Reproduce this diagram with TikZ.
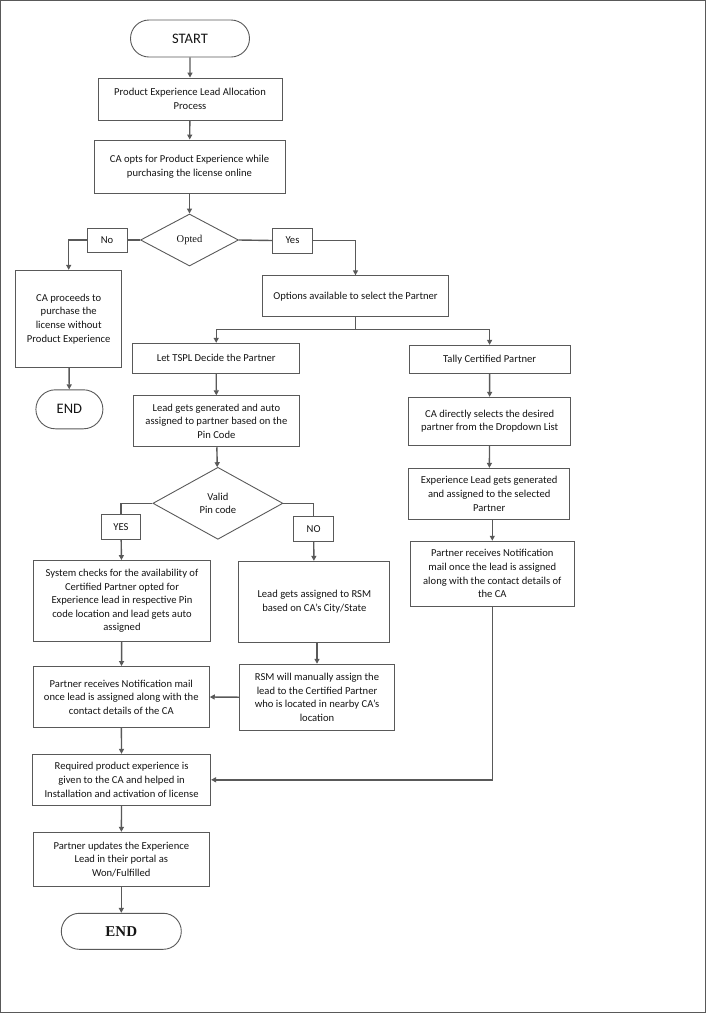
\documentclass[tikz,border=0pt]{standalone}
\usepackage{fontspec}
\setmainfont{Carlito}
\newfontfamily\timesfont{Liberation Serif}
\usepackage{tikz}
\usetikzlibrary{arrows.meta,shapes.geometric,shapes.misc}

\definecolor{lineg}{RGB}{89,89,89}
\definecolor{textg}{RGB}{20,20,20}

\begin{document}
\begin{tikzpicture}[x=1pt,y=-1pt,
		every node/.style={text=textg,inner sep=0pt,align=center,
			font=\fontsize{10.6}{13.6}\selectfont},
		procbox/.style={draw=lineg,line width=0.9pt,rectangle},
		termbox/.style={draw=lineg,line width=0.9pt,rounded rectangle,
			font=\fontsize{14.5}{16}\selectfont},
		decbox/.style={draw=lineg,line width=0.9pt,diamond},
		tagbox/.style={draw=lineg,line width=0.9pt,rectangle,
			minimum width=40pt,minimum height=24pt},
		flow/.style={draw=lineg,line width=1.4pt,-{Triangle[length=5pt,width=5pt]}},
		link/.style={draw=lineg,line width=1.4pt}]
		\useasboundingbox (0,0) rectangle (706,1013);
		\draw[lineg,line width=1pt] (0.5,0.5) rectangle (705.5,1012.5);

		% main column
		\node[termbox,minimum width=119pt,minimum height=37pt] (start) at (190,38.5) {START};
		\node[procbox,minimum width=184pt,minimum height=42pt] (alloc) at (190,99)
			{Product Experience Lead Allocation\\Process};
		\node[procbox,minimum width=191pt,minimum height=53pt] (opts) at (189.5,166.5)
			{CA opts for Product Experience while\\purchasing the license online};
		\node[decbox,minimum width=98pt,minimum height=52pt,
			font=\timesfont\fontsize{10.5}{12}\selectfont] (opted) at (189.5,240) {Opted};
		\node[tagbox] (no) at (107,240) {No};
		\node[tagbox,minimum height=25pt] (yes) at (292.5,240.5) {Yes};

		% not opted
		\node[procbox,minimum width=106pt,minimum height=97pt] (noexp) at (68.7,318.8)
			{CA proceeds to\\purchase the\\license without\\Product Experience};
		\node[termbox,minimum width=67pt,minimum height=39pt] (endl) at (69.4,409.3) {END};

		% opted
		\node[procbox,minimum width=186pt,minimum height=41pt] (options) at (355.5,296.3)
			{Options available to select the Partner};
		\coordinate (fork) at (355.5,329.3);
		\node[procbox,minimum width=167pt,minimum height=30pt] (tspl) at (216.2,358.3)
			{Let TSPL Decide the Partner};
		\node[procbox,minimum width=161pt,minimum height=28pt] (tally) at (489.6,359.3)
			{Tally Certified Partner};
		\node[procbox,minimum width=166pt,minimum height=51pt] (auto) at (216.4,421.3)
			{Lead gets generated and auto\\assigned to partner based on the\\Pin Code};
		\node[procbox,minimum width=162pt,minimum height=48pt] (select) at (489.7,421.3)
			{CA directly selects the desired\\partner from the Dropdown List};

		% pin code check
		\node[decbox,minimum width=130pt,minimum height=72pt] (pin) at (217.9,503.3)
			{Valid\\Pin code};
		\node[tagbox,minimum width=39pt,minimum height=25pt] (yesp) at (121,526.8) {YES};
		\node[tagbox,minimum height=25pt] (nop) at (313.6,528.8) {NO};
		\node[procbox,minimum width=177pt,minimum height=81pt] (check) at (122,601)
			{System checks for the availability of\\Certified Partner opted for\\Experience lead in respective Pin\\code location and lead gets auto\\assigned};
		\node[procbox,minimum width=151pt,minimum height=81pt] (rsm) at (314.3,601.8)
			{Lead gets assigned to RSM\\based on CA’s City/State};
		\node[procbox,minimum width=155pt,minimum height=66pt] (rsmman) at (317,697.2)
			{RSM will manually assign the\\lead to the Certified Partner\\who is located in nearby CA’s\\location};
		\node[procbox,minimum width=176pt,minimum height=61pt] (notify) at (121.3,697)
			{Partner receives Notification mail\\once lead is assigned along with the\\contact details of the CA};

		% certified partner
		\node[procbox,minimum width=161pt,minimum height=51pt] (explead) at (489.2,493.8)
			{Experience Lead gets generated\\and assigned to the selected\\Partner};
		\node[procbox,minimum width=164pt,minimum height=65pt] (notifyr) at (492.3,573.7)
			{Partner receives Notification\\mail once the lead is assigned\\along with the contact details of\\the CA};

		% closing steps
		\node[procbox,minimum width=178pt,minimum height=51pt] (given) at (121.6,779.8)
			{Required product experience is\\given to the CA and helped in\\Installation and activation of license};
		\node[procbox,minimum width=176pt,minimum height=54pt] (update) at (121.3,859.3)
			{Partner updates the Experience\\Lead in their portal as\\Won/Fulfilled};
		\node[termbox,minimum width=120pt,minimum height=36pt,
			font=\timesfont\bfseries\fontsize{15}{16}\selectfont] (endb) at (121.3,931.3) {END};

		% connectors
		\draw[flow] (start) -- (alloc);
		\draw[flow] (alloc) -- (opts);
		\draw[flow] (opts) -- (opted);
		\draw[link] (opted.west) -- (no.east);
		\draw[flow] (no.west) -| (noexp.north);
		\draw[flow] (noexp) -- (endl);
		\draw[link] (opted.east) -- (yes.west);
		\draw[flow] (yes.east) -| (options.north);
		\draw[link] (options.south) -- (fork);
		\draw[flow] (fork) -| (tspl.north);
		\draw[flow] (fork) -| (tally.north);
		\draw[flow] (tspl) -- (auto);
		\draw[flow] (tally) -- (select);
		\draw[flow] (auto) -- (pin);
		\draw[link] (pin.west) -| (yesp.north);
		\draw[flow] (yesp) -- (check);
		\draw[link] (pin.east) -| (nop.north);
		\draw[flow] (nop) -- (rsm);
		\draw[flow] (rsmman.north |- rsm.south) -- (rsmman.north);
		\draw[flow] (rsmman.west) -- (notify.east);
		\draw[flow] (check) -- (notify);
		\draw[flow] (select) -- (explead);
		\draw[flow] (notifyr.north |- explead.south) -- (notifyr.north);
		\draw[flow] (notifyr.south) |- (given.east);
		\draw[flow] (notify) -- (given);
		\draw[flow] (given) -- (update);
		\draw[flow] (update) -- (endb);
	\end{tikzpicture}
\end{document}
